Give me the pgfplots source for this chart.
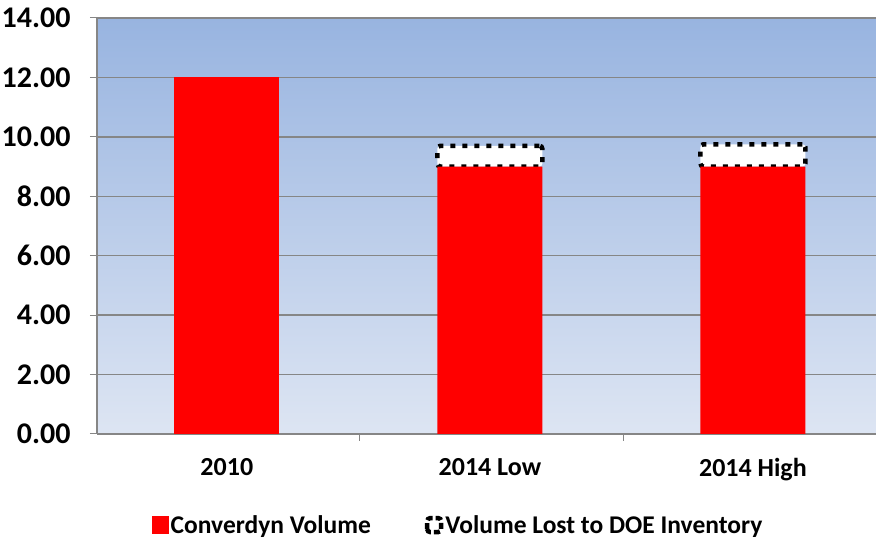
\documentclass[border=0pt]{standalone}
\usepackage{fontspec}
\setmainfont{Carlito}
\usepackage{pgfplots}
\pgfplotsset{compat=1.18}
\definecolor{gridgray}{HTML}{868686}
\definecolor{topblue}{HTML}{98B4E0}
\definecolor{botblue}{HTML}{DDE5F3}
\begin{document}
\begin{tikzpicture}
\begin{axis}[
    scale only axis, width=779pt, height=416pt,
    ybar stacked, bar width=105pt,
    xmin=-0.5, xmax=2.5, ymin=0, ymax=14,
    axis lines*=left,
    axis line style={gridgray, line width=1.5pt},
    axis background/.style={shade, top color=topblue, bottom color=botblue},
    ymajorgrids, grid style={gridgray, line width=1.5pt},
    ytick distance=2,
    /pgf/number format/assume math mode=true,
    xtick={0,1.013,2.026}, xticklabels={2010, 2014 Low, 2014 High},
    major x tick style={draw=none},
    minor xtick={0.509,1.526},
    tick align=outside, major tick length=7pt, minor tick length=7pt,
    tick style={gridgray, line width=1pt},
    ticklabel style={text=black},
    yticklabel style={font=\bfseries\fontsize{30}{34}\selectfont, xshift=-16pt,
        /pgf/number format/.cd, fixed, fixed zerofill, precision=2},
    xticklabel style={font=\bfseries\fontsize{26}{30}\selectfont, yshift=-14pt},
    legend style={at={(0.4634,-0.219)}, anchor=center, draw=none, fill=none,
        font=\bfseries\fontsize{25.5}{30}\selectfont, legend columns=2,
        /tikz/every even column/.append style={column sep=52pt}},
]
\addplot[fill=red, draw=none, stack plots=false, forget plot] coordinates {(0,12)};
\addplot[fill=red, draw=none,
    legend image code/.code={\fill[red] (0pt,-9pt) rectangle (17pt,9pt);}]
    coordinates {(1.013,9) (2.026,9)};
\addplot[fill=white, draw=black, line width=4.5pt, dash pattern=on 5pt off 7pt,
    rounded corners=3pt,
    legend image code/.code={\draw[black, fill=white, line width=4.5pt, dash pattern=on 6pt off 3pt] (2pt,-7pt) rectangle (16pt,7pt);}]
    coordinates {(1.013,0.7) (2.026,0.75)};
\legend{Converdyn Volume, Volume Lost to DOE Inventory}
\end{axis}
\pgfresetboundingbox
\path[use as bounding box] (current axis.south west) ++(-97pt,-106pt) rectangle ([yshift=18pt]current axis.north east);
\end{tikzpicture}
\end{document}
